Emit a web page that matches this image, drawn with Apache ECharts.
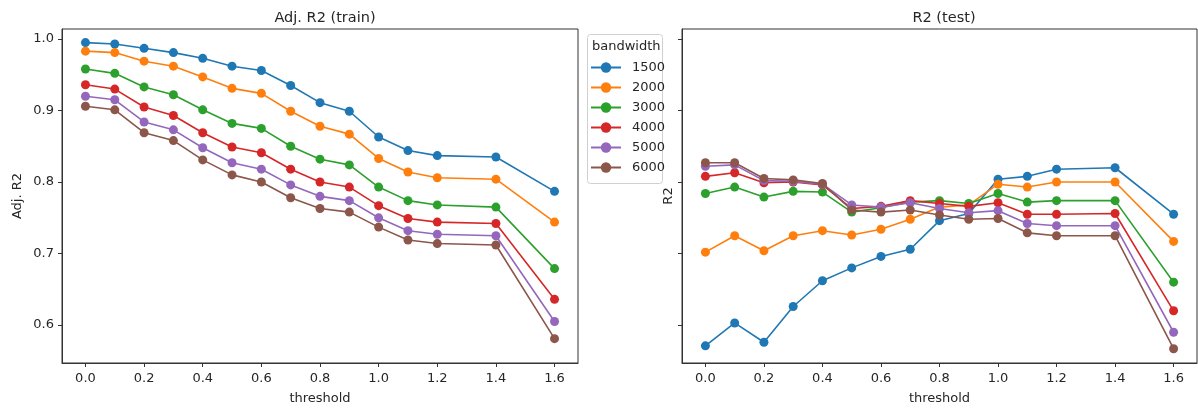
<!DOCTYPE html>
<html>
<head>
<meta charset="utf-8">
<script src="https://cdn.jsdelivr.net/npm/echarts@6/dist/echarts.min.js"></script>
<style>
  html, body { margin: 0; padding: 0; background: #fff; }
  #chart { width: 1198px; height: 412px; }
</style>
</head>
<body>
<div id="chart"></div>
<script>
const thresholds = [0, 0.1, 0.2, 0.3, 0.4, 0.5, 0.6, 0.7, 0.8, 0.9, 1.0, 1.1, 1.2, 1.4, 1.6]
const bandwidths = ['1500', '2000', '3000', '4000', '5000', '6000']
const xTicks = [0, 0.2, 0.4, 0.6, 0.8, 1.0, 1.2, 1.4, 1.6]
const yTicks = [0.6, 0.7, 0.8, 0.9, 1.0]

// Adj. R2 on the training set, one list per bandwidth
const train1500 = [0.995, 0.993, 0.987, 0.981, 0.973, 0.962, 0.956, 0.935, 0.911, 0.899, 0.863, 0.844, 0.837, 0.835, 0.787]
const train2000 = [0.983, 0.981, 0.969, 0.962, 0.947, 0.931, 0.924, 0.899, 0.878, 0.867, 0.833, 0.814, 0.806, 0.804, 0.744]
const train3000 = [0.958, 0.952, 0.933, 0.922, 0.901, 0.882, 0.875, 0.850, 0.832, 0.824, 0.793, 0.774, 0.768, 0.765, 0.679]
const train4000 = [0.936, 0.930, 0.905, 0.893, 0.869, 0.849, 0.841, 0.818, 0.800, 0.793, 0.767, 0.749, 0.744, 0.742, 0.636]
const train5000 = [0.920, 0.915, 0.884, 0.873, 0.848, 0.827, 0.818, 0.796, 0.780, 0.774, 0.750, 0.732, 0.727, 0.725, 0.605]
const train6000 = [0.906, 0.901, 0.869, 0.858, 0.831, 0.810, 0.800, 0.778, 0.763, 0.758, 0.737, 0.719, 0.714, 0.712, 0.581]

// R2 on the test set
const test1500 = [0.571, 0.603, 0.576, 0.626, 0.662, 0.680, 0.696, 0.706, 0.746, 0.756, 0.804, 0.808, 0.818, 0.820, 0.755]
const test2000 = [0.702, 0.725, 0.704, 0.725, 0.732, 0.726, 0.734, 0.748, 0.765, 0.768, 0.797, 0.793, 0.800, 0.800, 0.717]
const test3000 = [0.784, 0.793, 0.779, 0.787, 0.786, 0.758, 0.764, 0.772, 0.774, 0.770, 0.784, 0.772, 0.774, 0.774, 0.660]
const test4000 = [0.808, 0.813, 0.799, 0.800, 0.796, 0.763, 0.766, 0.774, 0.770, 0.766, 0.771, 0.755, 0.755, 0.756, 0.620]
const test5000 = [0.822, 0.824, 0.802, 0.801, 0.797, 0.768, 0.765, 0.771, 0.763, 0.757, 0.760, 0.742, 0.739, 0.739, 0.590]
const test6000 = [0.827, 0.827, 0.805, 0.803, 0.798, 0.761, 0.758, 0.761, 0.754, 0.748, 0.749, 0.729, 0.725, 0.725, 0.567]

const trainSets = [train1500, train2000, train3000, train4000, train5000, train6000]
const testSets = [test1500, test2000, test3000, test4000, test5000, test6000]
const colors = ['#1f77b4', '#ff7f0e', '#2ca02c', '#d62728', '#9467bd', '#8c564b']

const font = 'DejaVu Sans'
const ink = '#262626'

function xAxis(gridIndex) {
  return {
    type: 'value', gridIndex, min: -0.08, max: 1.68,
    name: 'threshold', nameLocation: 'middle', nameGap: 29,
    nameTextStyle: { fontFamily: font, fontSize: 13, color: ink },
    axisLine: { show: true, onZero: false, lineStyle: { color: '#333', width: 1 } },
    axisTick: { show: true, length: 4, customValues: xTicks, lineStyle: { color: '#333' } },
    axisLabel: { customValues: xTicks, margin: 9, fontFamily: font, fontSize: 13, color: ink,
      formatter: v => v.toFixed(1) },
    splitLine: { show: false }
  }
}

function yAxis(gridIndex, name, gap, labels) {
  return {
    type: 'value', gridIndex, min: 0.547, max: 1.014,
    name, nameLocation: 'middle', nameGap: gap,
    nameTextStyle: { fontFamily: font, fontSize: 13, color: ink },
    axisLine: { show: true, onZero: false, lineStyle: { color: '#333', width: 1 } },
    axisTick: { show: true, length: 4, customValues: yTicks, lineStyle: { color: '#333' } },
    axisLabel: { show: labels, customValues: yTicks, margin: 8, fontFamily: font, fontSize: 13, color: ink,
      formatter: v => v.toFixed(1) },
    splitLine: { show: false }
  }
}

function makeSeries(sets, axisIndex) {
  return sets.map((vals, i) => ({
    name: bandwidths[i],
    type: 'line',
    xAxisIndex: axisIndex,
    yAxisIndex: axisIndex,
    data: thresholds.map((t, j) => [t, vals[j]]),
    symbol: 'circle',
    symbolSize: 9,
    color: colors[i],
    lineStyle: { width: 1.6 },
    itemStyle: { color: colors[i] },
    animation: false
  }))
}

const chart = echarts.init(document.getElementById('chart'))
chart.setOption({
  animation: false,
  textStyle: { fontFamily: font },
  title: [
    { text: 'Adj. R2 (train)', left: 320, top: 6, textAlign: 'center',
      textStyle: { fontFamily: font, fontSize: 14.5, fontWeight: 'normal', color: ink } },
    { text: 'R2 (test)', left: 939, top: 6, textAlign: 'center',
      textStyle: { fontFamily: font, fontSize: 14.5, fontWeight: 'normal', color: ink } }
  ],
  grid: [
    { left: 62, top: 29, width: 516, height: 334, show: true, borderColor: '#333', borderWidth: 1 },
    { left: 682, top: 29, width: 515, height: 334, show: true, borderColor: '#333', borderWidth: 1 }
  ],
  xAxis: [xAxis(0), xAxis(1)],
  yAxis: [yAxis(0, 'Adj. R2', 38, true), yAxis(1, 'R2', 7, false)],
  legend: {
    data: bandwidths,
    orient: 'vertical',
    left: 590, top: 61,
    padding: 0,
    itemWidth: 30, itemHeight: 13, itemGap: 7,
    lineStyle: { width: 2 },
    textStyle: { fontFamily: font, fontSize: 13, color: ink, padding: [0, 0, 0, 6] }
  },
  graphic: [
    { type: 'rect', left: 587, top: 34, z: -1,
      shape: { width: 75, height: 149, r: 3 },
      style: { fill: '#fff', stroke: '#d0d0d0', lineWidth: 1 } },
    { type: 'text', left: 592, top: 40,
      style: { text: 'bandwidth', font: '13px "DejaVu Sans"', fill: ink } }
  ],
  series: [...makeSeries(trainSets, 0), ...makeSeries(testSets, 1)]
})
</script>
</body>
</html>
